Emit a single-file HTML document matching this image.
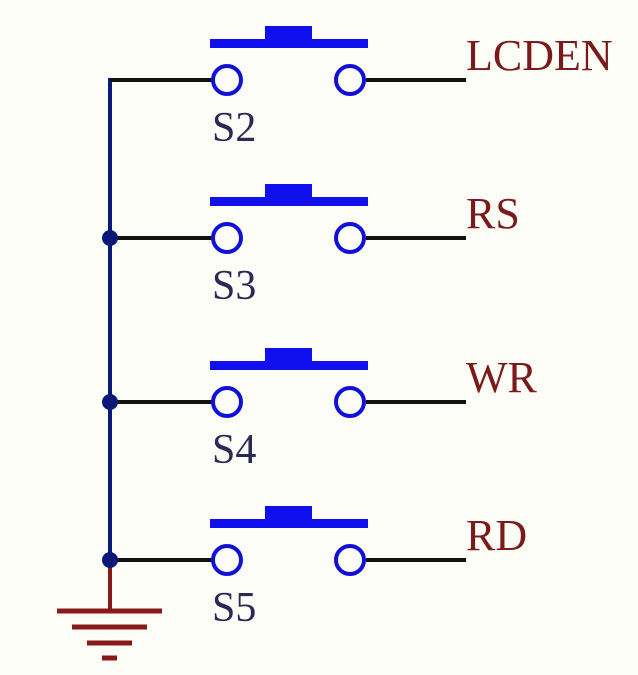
<!DOCTYPE html>
<html><head><style>
html,body{margin:0;padding:0;background:#fdfdf8;}
svg{display:block}
</style></head><body>
<svg width="638" height="675" viewBox="0 0 638 675" xmlns="http://www.w3.org/2000/svg">
<rect width="638" height="675" fill="#fdfdf8"/>
<line x1="110" y1="78" x2="110" y2="560" stroke="#0b1a7a" stroke-width="4"/>
<line x1="110" y1="560" x2="110" y2="611" stroke="#8a1a1a" stroke-width="4"/>
<g stroke="#8a1a1a" stroke-width="5">
<line x1="57" y1="611" x2="162" y2="611"/>
<line x1="72" y1="627" x2="147" y2="627"/>
<line x1="87" y1="643" x2="132" y2="643"/>
<line x1="102" y1="658" x2="117" y2="658"/>
</g>
<defs>
<g id="sw">
<line x1="110" y1="0" x2="212" y2="0" stroke="#111" stroke-width="4"/>
<line x1="366" y1="0" x2="466" y2="0" stroke="#111" stroke-width="4"/>
<circle cx="227" cy="0" r="14" fill="none" stroke="#1010d8" stroke-width="4"/>
<circle cx="350" cy="0" r="14" fill="none" stroke="#1010d8" stroke-width="4"/>
<rect x="210" y="-41" width="158" height="9" fill="#1010ee"/>
<rect x="265" y="-54" width="47" height="15" fill="#1010ee"/>
</g>
</defs>
<use href="#sw" y="80"/>
<use href="#sw" y="238"/>
<use href="#sw" y="402"/>
<use href="#sw" y="560"/>
<circle cx="110" cy="238" r="8" fill="#0b1a7a"/>
<circle cx="110" cy="402" r="8" fill="#0b1a7a"/>
<circle cx="110" cy="560" r="8" fill="#0b1a7a"/>
<g fill="#2a2a55" font-size="42" font-family="'Liberation Serif', 'Times New Roman', serif">
<text x="212" y="141">S2</text>
<text x="212" y="299">S3</text>
<text x="212" y="463">S4</text>
<text x="212" y="621">S5</text>
</g>
<g fill="#7a1a1a" font-size="44" font-family="'Liberation Serif', 'Times New Roman', serif">
<text x="466" y="70">LCDEN</text>
<text x="466" y="228">RS</text>
<text x="466" y="392">WR</text>
<text x="466" y="550">RD</text>
</g>
</svg>
</body></html>
